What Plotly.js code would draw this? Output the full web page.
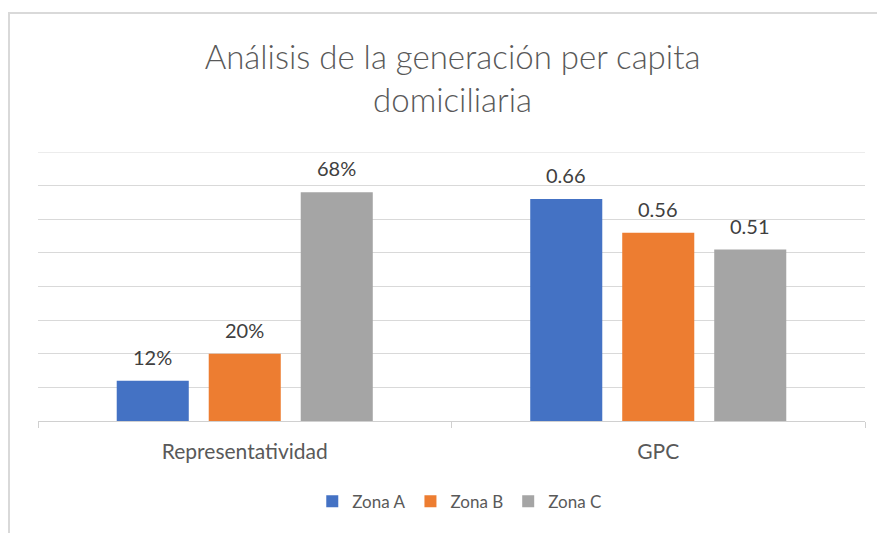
<!DOCTYPE html>
<html>
<head>
<meta charset="utf-8">
<script src="https://cdn.plot.ly/plotly-3.0.1.min.js"></script>
<style>
  html, body { margin: 0; padding: 0; background: #fff; }
  #wrap { position: relative; width: 877px; height: 533px; overflow: hidden; }
  #chart { position: absolute; left: 0; top: 0; width: 877px; height: 533px; }
  #frame { position: absolute; left: 8px; top: 12px; width: 900px; height: 600px;
           border-left: 2px solid #d9d9d9; border-top: 2px solid #d9d9d9; pointer-events: none; }
</style>
</head>
<body>
<div id="wrap">
  <div id="chart"></div>
  <div id="frame"></div>
</div>
<script>
const categories = ["Representatividad", "GPC"];
const seriesNames = ["Zona A", "Zona B", "Zona C"];
const zonaA = [0.12, 0.66];
const zonaB = [0.20, 0.56];
const zonaC = [0.68, 0.51];
const colors = ["#4472c4", "#ed7d31", "#a5a5a5"];
const allSeries = [zonaA, zonaB, zonaC];
const yMax = 0.8;

function fmt(v, ci) {
  return ci === 0 ? Math.round(v * 100) + "%" : v.toFixed(2);
}

const traces = allSeries.map((vals, si) => ({
  type: "bar",
  name: seriesNames[si],
  x: categories,
  y: vals,
  marker: { color: colors[si] },
  hoverinfo: "skip"
}));

const slot = 92;
const annotations = [];
allSeries.forEach((vals, si) => {
  vals.forEach((v, ci) => {
    annotations.push({
      x: categories[ci], y: v, xref: "x", yref: "y",
      text: fmt(v, ci), showarrow: false,
      xanchor: "center", yanchor: "bottom",
      xshift: (si - 1) * slot, yshift: 10,
      font: { family: "Lato, 'Open Sans', sans-serif", size: 20, color: "#404040" }
    });
  });
});

const layout = {
  width: 877, height: 533,
  margin: { l: 38, r: 12, t: 152, b: 112 },
  paper_bgcolor: "#ffffff",
  plot_bgcolor: "#ffffff",
  title: {
    text: "Análisis de la generación per capita<br>domiciliaria",
    font: { family: "Lato, 'Open Sans', sans-serif", size: 33, color: "#595959", weight: 300 },
    x: 0.516, xanchor: "center", y: 0.87, yanchor: "top"
  },
  barmode: "group",
  bargap: 0.3325,
  bargroupgap: 0.217,
  xaxis: {
    type: "category",
    showgrid: false,
    showline: true, linecolor: "#d0d0d0", linewidth: 1,
    ticks: "outside", tickson: "boundaries", ticklen: 6, tickcolor: "#d0d0d0",
    tickfont: { family: "Lato, 'Open Sans', sans-serif", size: 21, color: "#595959" },
    ticklabelstandoff: 12
  },
  yaxis: {
    range: [0, yMax], dtick: 0.1, tick0: 0,
    showticklabels: false,
    showgrid: true, gridcolor: "#d9d9d9", gridwidth: 1,
    zeroline: false, showline: false, ticks: ""
  },
  shapes: [{
    type: "line", xref: "paper", yref: "y", x0: 0, x1: 1, y0: yMax, y1: yMax,
    line: { color: "#d9d9d9", width: 1 }, layer: "below"
  }],
  showlegend: true,
  legend: {
    orientation: "h", x: 0.51, xanchor: "center", y: -0.30, yanchor: "middle",
    font: { family: "Lato, 'Open Sans', sans-serif", size: 17, color: "#595959" },
    itemwidth: 30, traceorder: "normal"
  },
  annotations: annotations
};

Plotly.newPlot("chart", traces, layout, { displayModeBar: false, staticPlot: true });
</script>
</body>
</html>
